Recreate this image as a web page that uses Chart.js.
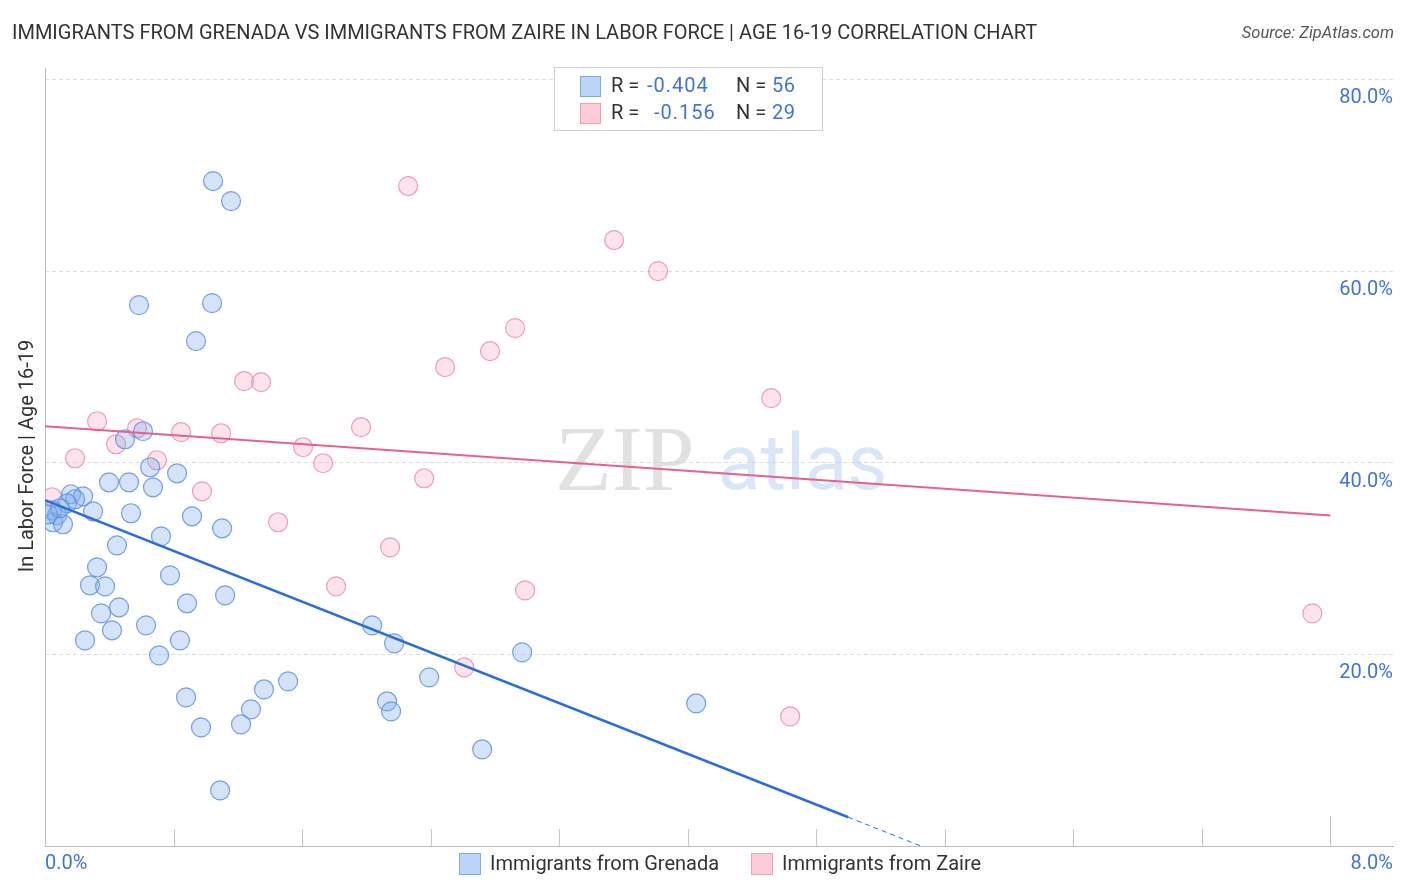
<!DOCTYPE html>
<html>
<head>
<meta charset="utf-8">
<script src="https://cdn.jsdelivr.net/npm/chart.js@4.4.1/dist/chart.umd.min.js"></script>
<style>
html,body{margin:0;padding:0;background:#fff;}
#wrap{width:1406px;height:892px;}
</style>
</head>
<body>
<div id="wrap"><canvas id="c" width="1406" height="892"></canvas></div>
<script>
// ---- Data ----
const chartTitle = 'IMMIGRANTS FROM GRENADA VS IMMIGRANTS FROM ZAIRE IN LABOR FORCE | AGE 16-19 CORRELATION CHART';
const sourceText = 'Source: ZipAtlas.com';
const yAxisTitle = 'In Labor Force | Age 16-19';
const seriesNames = ['Immigrants from Grenada', 'Immigrants from Zaire'];
const statR = ['-0.404', '-0.156'];
const statN = ['56', '29'];

const grenadaX = [1.046,1.158,0.585,1.040,0.940,0.498,0.610,0.654,0.822,0.398,0.523,0.672,0.162,0.237,0.187,0.137,0.299,0.535,0.915,1.102,0.722,0.448,0.324,0.778,0.280,0.374,1.121,0.884,0.461,0.349,0.629,0.417,0.249,0.840,0.710,2.036,2.173,2.970,2.391,2.129,2.154,2.721,4.053,1.513,1.363,0.878,1.282,1.220,0.971,1.090,0.044,0.075,0.050,0.112,0.019,0.093];
const grenadaY = [69.40,67.31,56.45,56.66,52.69,42.45,43.29,39.53,38.90,37.96,37.96,37.44,36.71,36.50,36.19,35.77,34.93,34.73,34.41,33.16,32.32,31.38,29.09,28.25,27.21,27.10,26.16,25.33,24.91,24.28,23.03,22.51,21.46,21.46,19.90,23.03,21.15,20.21,17.60,15.09,14.05,10.08,14.88,17.18,16.34,15.51,14.26,12.69,12.38,5.80,35.04,34.52,33.79,33.58,34.62,35.25];

const zaireX = [2.260,3.542,3.816,2.926,2.770,2.490,1.239,1.345,4.520,0.324,0.573,0.442,0.847,1.096,1.967,1.606,0.187,0.697,1.731,2.360,0.977,0.044,1.451,2.148,1.812,2.988,2.609,7.888,4.638];
const zaireY = [68.88,63.24,60.00,54.05,51.64,49.97,48.51,48.41,46.74,44.33,43.60,41.93,43.19,43.08,43.71,41.62,40.47,40.26,39.95,38.38,37.02,36.40,33.79,31.17,27.10,26.68,18.64,24.28,13.52];

const grenadaTrendX = [0, 5.0];
const grenadaTrendY = [36.1, 3.0];
const grenadaTrendDashX = [5.0, 5.45];
const grenadaTrendDashY = [3.0, 0];
const zaireTrendX = [0, 8.0];
const zaireTrendY = [43.8, 34.5];

const yTickValues = [20, 40, 60, 80];
const xTickValues = [0.8, 1.6, 2.4, 3.2, 4.0, 4.8, 5.6, 6.4, 7.2, 8.0];
const xEndLabels = ['0.0%', '8.0%'];

// ---- helpers ----
const pts = (xs, ys) => xs.map((x, i) => ({x: x, y: ys[i]}));

const BLUE_FILL = 'rgba(125,170,235,0.33)';
const BLUE_LINE = 'rgba(95,145,225,0.85)';
const PINK_FILL = 'rgba(248,170,195,0.33)';
const PINK_LINE = 'rgba(232,135,165,0.8)';
const LABEL_BLUE = '#4274d4';
const FONT = 'Roboto, "Noto Sans", sans-serif';

const deco = {
  id: 'deco',
  beforeDatasetsDraw(chart) {
    const ctx = chart.ctx;
    ctx.save();
    ctx.textBaseline = 'alphabetic';
    ctx.textAlign = 'left';
    ctx.font = '93px "Liberation Serif", "DejaVu Serif", serif';
    ctx.fillStyle = 'rgba(200,200,200,0.55)';
    ctx.fillText('ZIP', 555, 490);
    ctx.font = '78px ' + FONT;
    ctx.fillStyle = 'rgba(170,200,240,0.45)';
    ctx.fillText('atlas', 718, 489);
    ctx.restore();
  },
  afterDraw(chart) {
    const ctx = chart.ctx;
    const xs = chart.scales.x;
    const ca = chart.chartArea;
    ctx.save();
    // title
    ctx.fillStyle = '#333';
    ctx.font = '20px ' + FONT;
    ctx.textBaseline = 'middle';
    ctx.textAlign = 'left';
    ctx.fillText(chartTitle, 12, 34);
    // source
    ctx.font = 'italic 16.5px ' + FONT;
    ctx.fillStyle = '#555';
    ctx.textAlign = 'right';
    ctx.fillText(sourceText, 1394, 34);

    // x tick marks (inside, upward)
    ctx.strokeStyle = '#c4c4c4';
    ctx.lineWidth = 1;
    xTickValues.forEach((v, i) => {
      const px = Math.round(xs.getPixelForValue(v)) + 0.5;
      const len = (i === xTickValues.length - 1) ? 30 : 17;
      ctx.beginPath();
      ctx.moveTo(px, ca.bottom);
      ctx.lineTo(px, ca.bottom - len);
      ctx.stroke();
    });
    // x end labels
    ctx.font = '20px ' + FONT;
    ctx.fillStyle = LABEL_BLUE;
    ctx.textBaseline = 'middle';
    ctx.textAlign = 'left';
    ctx.fillText(xEndLabels[0], ca.left, 864);
    ctx.textAlign = 'right';
    ctx.fillText(xEndLabels[1], ca.right, 864);

    // y axis title
    ctx.save();
    ctx.translate(28, 456);
    ctx.rotate(-Math.PI / 2);
    ctx.textAlign = 'center';
    ctx.textBaseline = 'middle';
    ctx.fillStyle = '#333';
    ctx.font = '20px ' + FONT;
    ctx.fillText(yAxisTitle, 0, 0);
    ctx.restore();

    // stats box
    ctx.fillStyle = '#fff';
    ctx.fillRect(554, 67, 268, 63);
    ctx.strokeStyle = '#d0d0d0';
    ctx.strokeRect(554.5, 67.5, 268, 63);
    const rows = [
      {y: 86, fill: '#bcd5f6', line: '#7ea9e6', vx: 647},
      {y: 113, fill: '#fcccd9', line: '#eea0b8', vx: 654}
    ];
    ctx.textAlign = 'left';
    ctx.textBaseline = 'middle';
    rows.forEach((r, i) => {
      ctx.fillStyle = r.fill;
      ctx.fillRect(580, r.y - 10, 21, 21);
      ctx.strokeStyle = r.line;
      ctx.strokeRect(580.5, r.y - 9.5, 20, 20);
      ctx.font = '20px ' + FONT;
      ctx.fillStyle = '#333';
      ctx.fillText('R = ', 611, r.y + 1);
      ctx.fillText('N = ', 736, r.y + 1);
      ctx.fillStyle = LABEL_BLUE;
      ctx.letterSpacing = '1px';
      ctx.fillText(statR[i], r.vx, r.y + 1);
      ctx.letterSpacing = '0.5px';
      ctx.fillText(statN[i], 772, r.y + 1);
      ctx.letterSpacing = '0px';
    });

    // bottom legend
    const leg = [
      {x: 459, fill: '#bcd5f6', line: '#7ea9e6'},
      {x: 751, fill: '#fcccd9', line: '#eea0b8'}
    ];
    ctx.font = '20px ' + FONT;
    leg.forEach((l, i) => {
      ctx.fillStyle = l.fill;
      ctx.fillRect(l.x, 853, 22, 22);
      ctx.strokeStyle = l.line;
      ctx.strokeRect(l.x + 0.5, 853.5, 21, 21);
      ctx.fillStyle = '#333';
      ctx.fillText(chart.data.datasets[i].label, l.x + 31, 865);
    });
    ctx.restore();
  }
};

new Chart(document.getElementById('c'), {
  type: 'scatter',
  data: {
    datasets: [
      {label: seriesNames[0], data: pts(grenadaX, grenadaY), backgroundColor: BLUE_FILL, borderColor: BLUE_LINE, borderWidth: 1.2, pointRadius: 9.5, order: 2},
      {label: seriesNames[1], data: pts(zaireX, zaireY), backgroundColor: PINK_FILL, borderColor: PINK_LINE, borderWidth: 1.2, pointRadius: 9.5, order: 3},
      {type: 'line', label: 'trendG', data: pts(grenadaTrendX, grenadaTrendY), borderColor: '#2b6fd6', borderWidth: 2.5, pointRadius: 0, fill: false, order: 0},
      {type: 'line', label: 'trendGd', data: pts(grenadaTrendDashX, grenadaTrendDashY), borderColor: '#2b6fd6', borderWidth: 1, borderDash: [5, 4], pointRadius: 0, fill: false, order: 0},
      {type: 'line', label: 'trendZ', data: pts(zaireTrendX, zaireTrendY), borderColor: '#e5628e', borderWidth: 2, pointRadius: 0, fill: false, order: 1}
    ]
  },
  options: {
    responsive: false,
    animation: false,
    events: [],
    layout: {padding: {left: 45, right: 13, top: 68, bottom: 46}},
    plugins: {legend: {display: false}, title: {display: false}, tooltip: {enabled: false}},
    scales: {
      x: {
        type: 'linear', min: 0, max: 8.39, position: 'bottom',
        grid: {display: false, drawTicks: false},
        ticks: {display: false},
        border: {display: true, color: '#bdbdbd', width: 1}
      },
      y: {
        type: 'linear', min: 0, max: 81.2, position: 'right',
        afterBuildTicks: (axis) => { axis.ticks = yTickValues.map(v => ({value: v})); },
        grid: {display: true, color: '#dddddd', lineWidth: 1, drawTicks: false},
        border: {display: false, dash: [4, 3]},
        ticks: {mirror: true, padding: 0, labelOffset: 19, color: LABEL_BLUE, font: {family: FONT, size: 20}, callback: (v) => v.toFixed(1) + '%'}
      },
      yLeft: {
        type: 'linear', position: 'left', display: true,
        grid: {display: false, drawTicks: false},
        ticks: {display: false},
        border: {display: true, color: '#bdbdbd', width: 1}
      }
    }
  },
  plugins: [deco]
});
</script>
</body>
</html>
